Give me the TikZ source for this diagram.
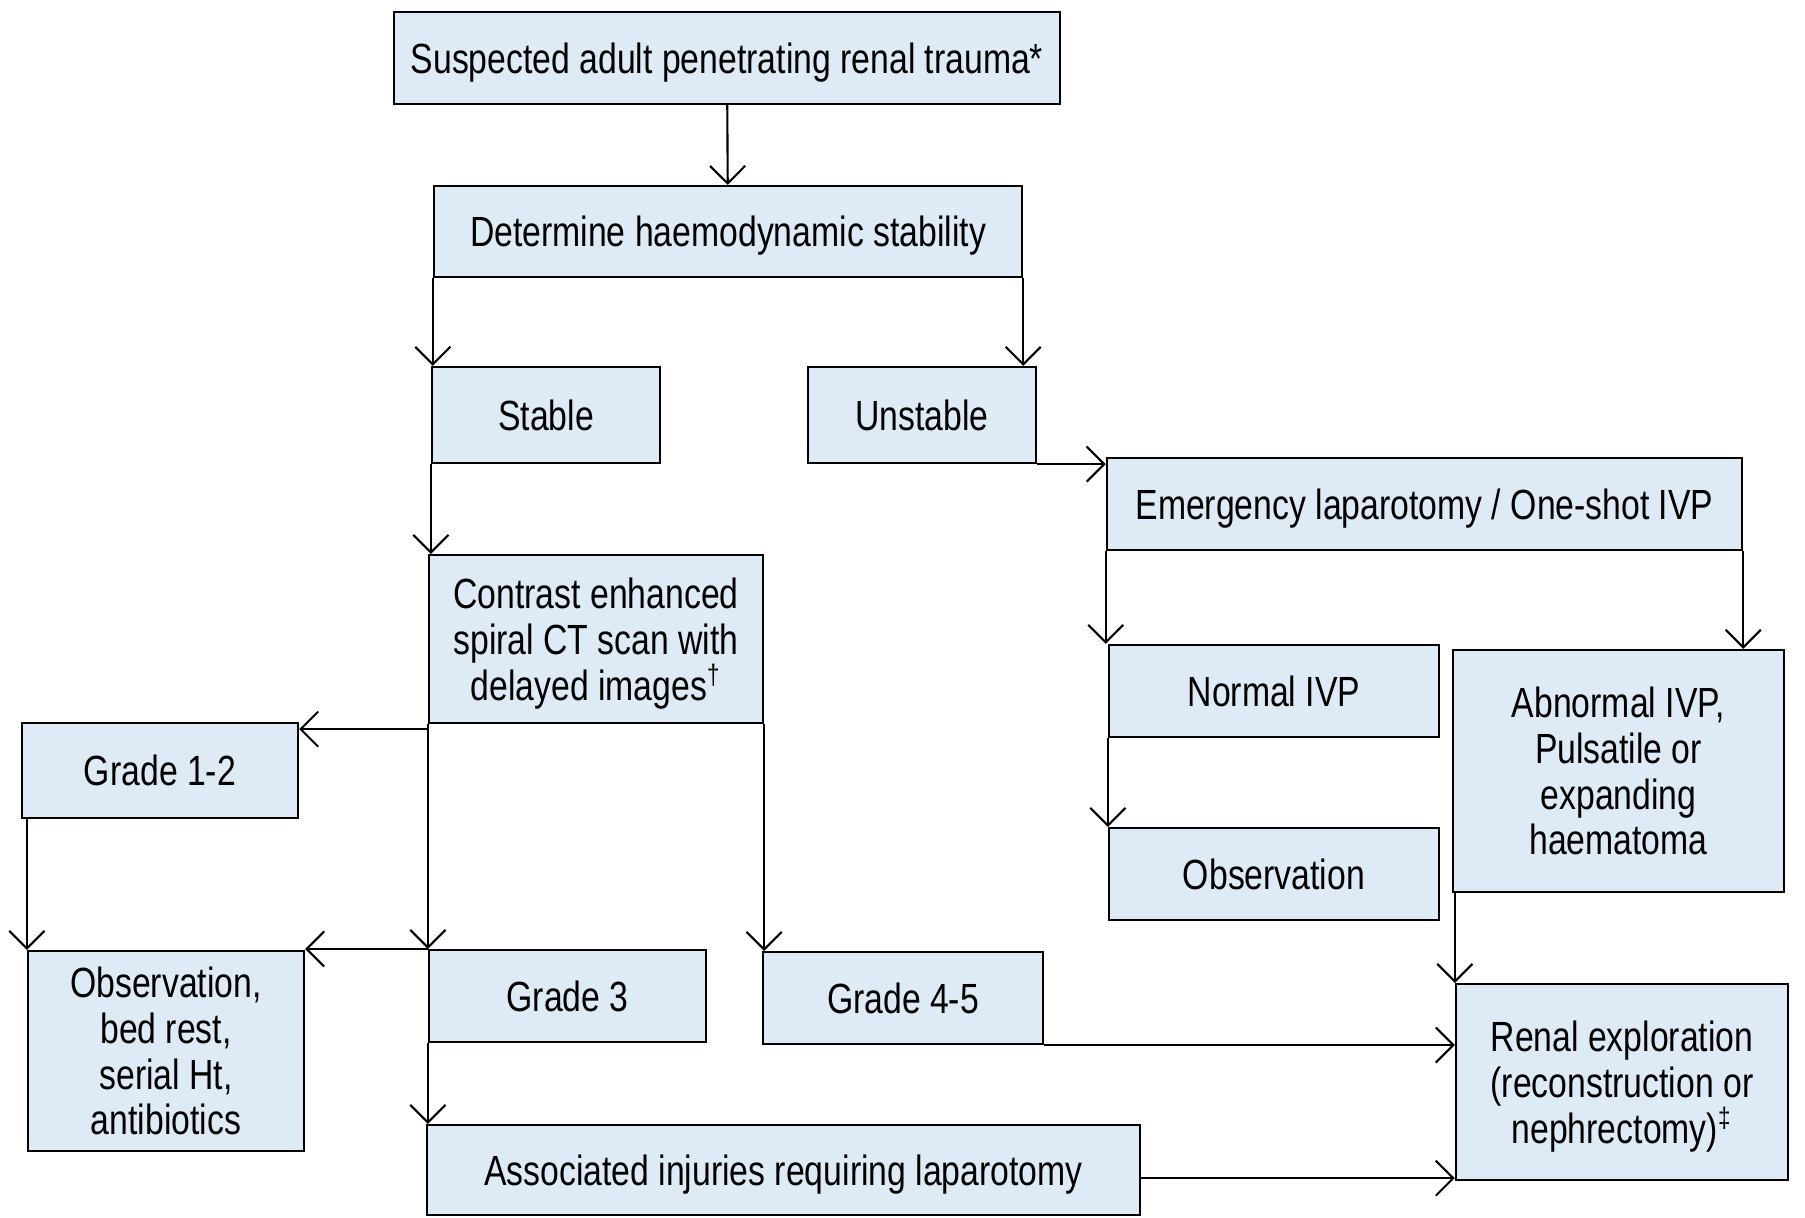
\documentclass[tikz,border=0pt]{standalone}
\usepackage{fontspec}
\setmainfont[FakeStretch=0.8]{Liberation Sans}
\usetikzlibrary{arrows.meta, calc}
\definecolor{boxblue}{RGB}{222,234,245}

\begin{document}
\begin{tikzpicture}[x=0.01cm, y=-0.01cm,
	blk/.style={draw, fill=boxblue, line width=0.6pt, inner sep=0pt, align=center, text depth=0pt, font=\fontsize{12}{13}\selectfont},
	arr/.style={-{Straight Barb[length=5pt,width=10pt]}, line width=0.6pt}]
	\useasboundingbox (0,0) rectangle (1805,1217);
	\node[blk, minimum width=6.66cm, minimum height=0.92cm] (susp) at (727,58) {Suspected adult penetrating renal trauma*};
	\node[blk, minimum width=5.88cm, minimum height=0.91cm] (det) at (728,231.5) {Determine haemodynamic stability};
	\node[blk, minimum width=2.28cm, minimum height=0.96cm] (stable) at (546,415) {Stable};
	\node[blk, minimum width=2.28cm, minimum height=0.96cm] (unstable) at (922,415) {Unstable};
	\node[blk, minimum width=6.35cm, minimum height=0.92cm] (emerg) at (1424.5,504) {Emergency laparotomy / One-shot IVP};
	\node[blk, minimum width=3.34cm, minimum height=1.68cm] (ct) at (596,639) {Contrast enhanced\\spiral CT scan with\\delayed images\textsuperscript{†}};
	\node[blk, minimum width=2.76cm, minimum height=0.95cm] (grade12) at (160,770.5) {Grade 1-2};
	\node[blk, minimum width=3.30cm, minimum height=0.92cm] (normal) at (1274,691) {Normal IVP};
	\node[blk, minimum width=3.31cm, minimum height=2.42cm] (abnormal) at (1618.5,771) {Abnormal IVP,\\Pulsatile or\\expanding\\haematoma};
	\node[blk, minimum width=3.30cm, minimum height=0.92cm] (obs) at (1274,874) {Observation};
	\node[blk, minimum width=2.76cm, minimum height=2.00cm] (obsbed) at (166,1051) {Observation,\\bed rest,\\serial Ht,\\antibiotics};
	\node[blk, minimum width=2.77cm, minimum height=0.92cm] (grade3) at (567.5,996) {Grade 3};
	\node[blk, minimum width=2.80cm, minimum height=0.92cm] (grade45) at (903,998) {Grade 4-5};
	\node[blk, minimum width=3.32cm, minimum height=1.96cm] (renal) at (1622,1082) {Renal exploration\\(reconstruction or\\nephrectomy)\textsuperscript{‡}};
	\node[blk, minimum width=7.13cm, minimum height=0.90cm] (assoc) at (783.5,1170) {Associated injuries requiring laparotomy};

	\draw[arr] (susp) -- (det);
	\draw[arr] (det.south west) -- (det.south west |- stable.north);
	\draw[arr] (det.south east) -- (det.south east |- unstable.north);
	\draw[arr] (stable.south west) -- (stable.south west |- ct.north);
	\draw[arr] (unstable.south east) -- (unstable.south east -| emerg.west);
	\coordinate (split) at (ct.south west |- grade3.north);
	\draw[arr] ([yshift=-0.05cm]ct.south west) -- ([yshift=-0.05cm]ct.south west -| grade12.east);
	\draw[arr] (ct.south west) -- (split);
	\draw[arr] (split) -- (split -| obsbed.east);
	\draw[arr] (obsbed.north west |- grade12.south) -- (obsbed.north west);
	\draw[arr] (ct.south east) -- (ct.south east |- grade45.north);
	\draw[arr] (grade3.south west) -- (grade3.south west |- assoc.north);
	\draw[arr] (grade45.south east) -- (grade45.south east -| renal.west);
	\draw[arr] ([yshift=0.03cm]assoc.east |- renal.south west) -- ([yshift=0.03cm]renal.south west);
	\draw[arr] (emerg.south west) -- (emerg.south west |- normal.north);
	\draw[arr] (emerg.south east) -- (emerg.south east |- abnormal.north);
	\draw[arr] (normal.south west) -- (normal.south west |- obs.north);
	\draw[arr] (renal.north west |- abnormal.south) -- (renal.north west);
\end{tikzpicture}
\end{document}
